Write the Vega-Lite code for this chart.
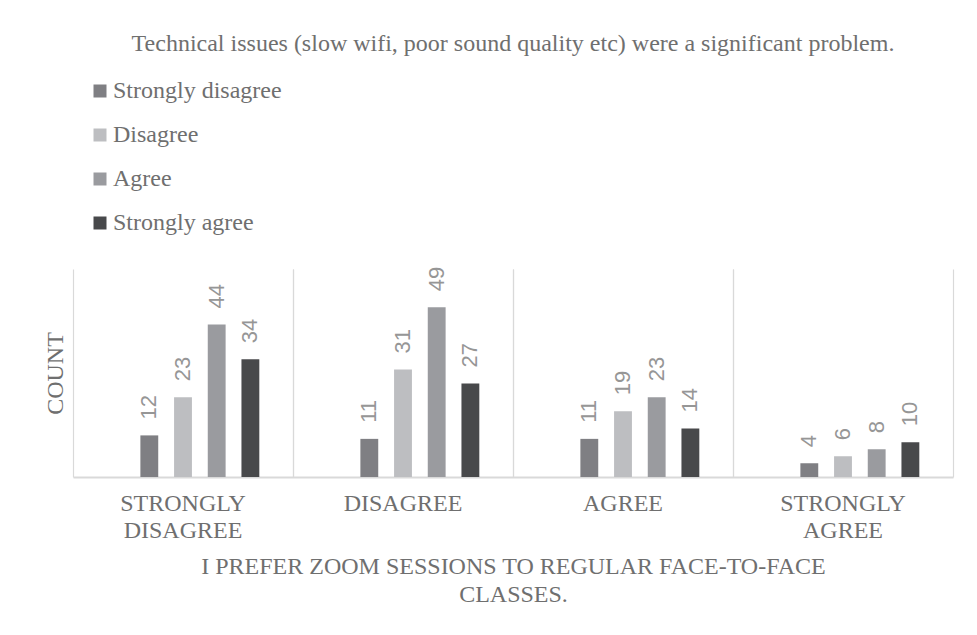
{
  "$schema": "https://vega.github.io/schema/vega-lite/v6.json",
  "width": 880,
  "height": 208,
  "autosize": {"type": "none"},
  "padding": {"left": 73, "top": 269, "right": 24, "bottom": 158},
  "background": "white",
  "title": {
    "text": "Technical issues (slow wifi, poor sound quality etc) were a significant problem.",
    "anchor": "middle",
    "font": "Liberation Serif",
    "fontSize": 24,
    "fontWeight": "normal",
    "color": "#6f6f6f",
    "baseline": "alphabetic",
    "offset": 4
  },
  "config": {
    "view": {"stroke": null},
    "font": "Liberation Serif"
  },
  "data": {
    "values": [
      {"q": "STRONGLY DISAGREE", "s": "Strongly disagree", "v": 12},
      {"q": "STRONGLY DISAGREE", "s": "Disagree", "v": 23},
      {"q": "STRONGLY DISAGREE", "s": "Agree", "v": 44},
      {"q": "STRONGLY DISAGREE", "s": "Strongly agree", "v": 34},
      {"q": "DISAGREE", "s": "Strongly disagree", "v": 11},
      {"q": "DISAGREE", "s": "Disagree", "v": 31},
      {"q": "DISAGREE", "s": "Agree", "v": 49},
      {"q": "DISAGREE", "s": "Strongly agree", "v": 27},
      {"q": "AGREE", "s": "Strongly disagree", "v": 11},
      {"q": "AGREE", "s": "Disagree", "v": 19},
      {"q": "AGREE", "s": "Agree", "v": 23},
      {"q": "AGREE", "s": "Strongly agree", "v": 14},
      {"q": "STRONGLY AGREE", "s": "Strongly disagree", "v": 4},
      {"q": "STRONGLY AGREE", "s": "Disagree", "v": 6},
      {"q": "STRONGLY AGREE", "s": "Agree", "v": 8},
      {"q": "STRONGLY AGREE", "s": "Strongly agree", "v": 10}
    ]
  },
  "encoding": {
    "x": {
      "field": "q",
      "type": "nominal",
      "sort": ["STRONGLY DISAGREE", "DISAGREE", "AGREE", "STRONGLY AGREE"],
      "scale": {"paddingInner": 0, "paddingOuter": 0}
    },
    "xOffset": {
      "field": "s",
      "type": "nominal",
      "scale": {
        "domain": ["(blank)", "Strongly disagree", "Disagree", "Agree", "Strongly agree"],
        "paddingInner": 0.47,
        "paddingOuter": 1.17
      }
    },
    "y": {
      "field": "v",
      "type": "quantitative",
      "scale": {"domain": [0, 60], "nice": false},
      "axis": {
        "title": "COUNT",
        "titleFont": "Liberation Serif",
        "titleFontSize": 24,
        "titleFontWeight": "normal",
        "titleColor": "#6f6f6f",
        "titleBaseline": "alphabetic",
        "titlePadding": 11,
        "labels": false,
        "ticks": false,
        "domain": false,
        "grid": false
      }
    }
  },
  "layer": [
    {
      "mark": {"type": "bar"},
      "encoding": {
        "x": {
          "field": "q",
          "type": "nominal",
          "sort": ["STRONGLY DISAGREE", "DISAGREE", "AGREE", "STRONGLY AGREE"],
          "axis": {
            "orient": "bottom",
            "labelAngle": 0,
            "labelExpr": "split(datum.label, ' ')",
            "labelFont": "Liberation Serif",
            "labelFontSize": 24,
            "labelColor": "#6f6f6f",
            "labelLineHeight": 27,
            "labelPadding": 14,
            "ticks": false,
            "domainColor": "#d9d9d9",
            "domainWidth": 2,
            "grid": true,
            "bandPosition": 0,
            "gridColor": "#d9d9d9",
            "gridWidth": 1.2,
            "title": ["I PREFER ZOOM SESSIONS TO REGULAR FACE-TO-FACE", "CLASSES."],
            "titleFont": "Liberation Serif",
            "titleFontSize": 24,
            "titleFontWeight": "normal",
            "titleColor": "#6f6f6f",
            "titleLineHeight": 28,
            "titlePadding": 12
          }
        },
        "color": {
          "field": "s",
          "type": "nominal",
          "scale": {
            "domain": ["Strongly disagree", "Disagree", "Agree", "Strongly agree"],
            "range": ["#7f7f83", "#bdbec1", "#9a9b9f", "#48494b"]
          },
          "legend": {
            "title": null,
            "orient": "none",
            "legendX": 15,
            "legendY": -190,
            "direction": "vertical",
            "padding": 0,
            "symbolType": "square",
            "symbolSize": 169,
            "symbolStrokeWidth": 0,
            "labelFont": "Liberation Serif",
            "labelFontSize": 24,
            "labelColor": "#6f6f6f",
            "labelOffset": 1,
            "rowPadding": 20,
            "labelLimit": 400
          }
        }
      }
    },
    {
      "mark": {
        "type": "text",
        "angle": 270,
        "align": "left",
        "baseline": "middle",
        "dx": 16,
        "font": "Liberation Sans",
        "fontSize": 22,
        "color": "#969696"
      },
      "encoding": {
        "x": {
          "field": "q",
          "type": "nominal",
          "sort": ["STRONGLY DISAGREE", "DISAGREE", "AGREE", "STRONGLY AGREE"],
          "axis": {
            "orient": "top",
            "labels": false,
            "ticks": false,
            "domain": false,
            "title": null,
            "grid": true,
            "bandPosition": 1,
            "gridColor": "#d9d9d9",
            "gridWidth": 1.2
          }
        },
        "text": {"field": "v", "type": "quantitative"}
      }
    }
  ],
  "resolve": {"axis": {"x": "independent"}}
}
